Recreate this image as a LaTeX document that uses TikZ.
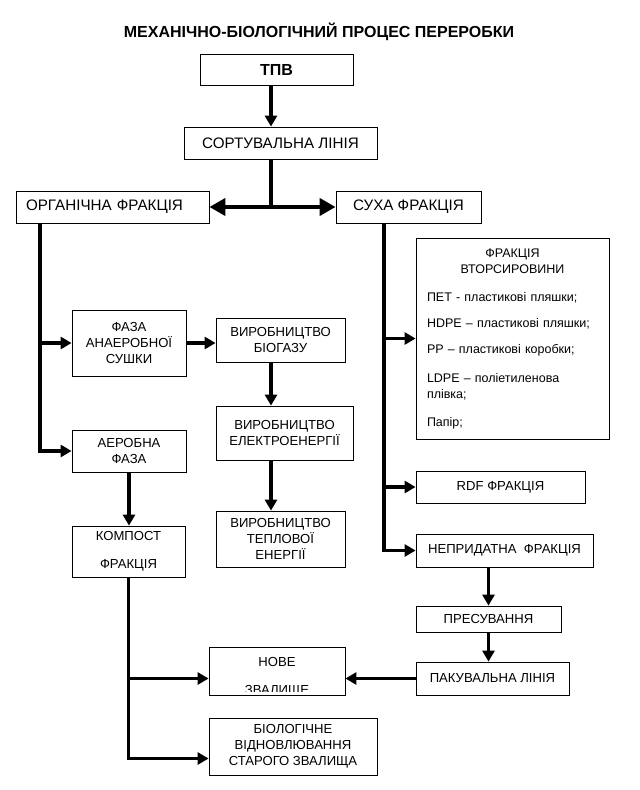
\documentclass[tikz,border=0pt]{standalone}
\usepackage{fontspec}
\setmainfont{Liberation Sans}
\usetikzlibrary{arrows.meta,calc}

\newcommand{\hdfont}{\fontsize{16}{18}\selectfont\bfseries}
\newcommand{\bxfont}{\fontsize{15.2}{17}\selectfont}
\newcommand{\smfont}{\fontsize{13.1}{16}\selectfont}
\newcommand{\lsfont}{\fontsize{12.5}{16}\selectfont}

\tikzset{
	box/.style={draw, line width=0.8pt, inner sep=0pt, align=center, font=\smfont},
	arr/.style={line width=3.5pt, -{Triangle[length=11pt,width=12pt]}},
	wire/.style={line width=3.5pt},
	biarr/.style={line width=4.5pt, {Triangle[length=16pt,width=17pt]}-{Triangle[length=16pt,width=17pt]}}
}

\begin{document}
\begin{tikzpicture}[x=1pt,y=-1pt]
		\useasboundingbox (0,0) rectangle (640,790);
		
		\node[font=\hdfont] (title) at (319,32) {МЕХАНІЧНО-БІОЛОГІЧНИЙ ПРОЦЕС ПЕРЕРОБКИ};
		
		\node[box, font=\hdfont, minimum width=153pt, minimum height=31pt] (tpv) at (276.5,69.5) {ТПВ};
		\node[box, font=\bxfont, minimum width=193pt, minimum height=32pt] (sort) at (280.5,143) {СОРТУВАЛЬНА ЛІНІЯ};
		\node[box, font=\bxfont, minimum width=193pt, minimum height=32pt, text width=173pt, inner xsep=10pt, align=left] (org) at (112.5,207) {ОРГАНІЧНА ФРАКЦІЯ};
		\node[box, font=\bxfont, minimum width=145pt, minimum height=32pt] (dry) at (408.5,207) {СУХА ФРАКЦІЯ};
		
		\node[box, minimum width=114pt, minimum height=66pt] (anaer) at (129,343) {ФАЗА\\АНАЕРОБНОЇ\\СУШКИ};
		\node[box, minimum width=129pt, minimum height=44pt] (biogas) at (280.5,340) {ВИРОБНИЦТВО\\БІОГАЗУ};
		\node[box, minimum width=137pt, minimum height=54pt] (elec) at (284.5,433) {ВИРОБНИЦТВО\\ЕЛЕКТРОЕНЕРГІЇ};
		\node[box, minimum width=129pt, minimum height=56pt] (heat) at (280.5,539) {ВИРОБНИЦТВО\\ТЕПЛОВОЇ\\ЕНЕРГІЇ};
		\node[box, minimum width=114pt, minimum height=42pt] (aer) at (129,451) {АЕРОБНА\\ФАЗА};
		\node[box, minimum width=113pt, minimum height=51pt] (comp) at (128.5,551.5) {КОМПОСТ\\[12pt]ФРАКЦІЯ};
		
		\node[box, minimum width=136pt, minimum height=48pt] (nove) at (277,671) {};
		\begin{scope}
			\clip (nove.north west) rectangle ($(nove.south east)+(0,-4)$);
			\node[font=\smfont, align=center] (novetext) at (277,677) {НОВЕ\\[12pt]ЗВАЛИЩЕ};
		\end{scope}
		\node[box, minimum width=168pt, minimum height=57pt] (bio) at (293,746.5) {БІОЛОГІЧНЕ\\ВІДНОВЛЮВАННЯ\\СТАРОГО ЗВАЛИЩА};
		
		\node[box, font=\lsfont, minimum width=193pt, minimum height=201pt, text width=171pt, inner xsep=11pt, align=left] (recyc) at (512.5,338.5) {%
			\makebox[171pt]{ФРАКЦІЯ}\\
			\makebox[171pt]{ВТОРСИРОВИНИ}\\[12pt]
			ПЕТ - пластикові пляшки;\\[10pt]
			HDPE – пластикові пляшки;\\[10pt]
			PP – пластикові коробки;\\[13pt]
			LDPE – поліетиленова\\
			плівка;\\[12pt]
			Папір;};
		\node[box, minimum width=169pt, minimum height=32pt] (rdf) at (500.5,487) {RDF ФРАКЦІЯ};
		\node[box, minimum width=177pt, minimum height=33pt] (unfit) at (504.5,550.5) {НЕПРИДАТНА\ \ ФРАКЦІЯ};
		\node[box, minimum width=145pt, minimum height=26pt] (press) at (488.5,619) {ПРЕСУВАННЯ};
		\node[box, minimum width=153pt, minimum height=33pt] (pack) at (492.5,678.5) {ПАКУВАЛЬНА ЛІНІЯ};
		
		\coordinate (hub) at (271,207);
		\coordinate (lspine) at (40,223);
		\coordinate (rspine) at (384,223);
		
		\draw[arr] (tpv.south -| hub) -- (sort.north -| hub);
		\draw[wire] (sort.south -| hub) -- (hub);
		\draw[biarr] (org.east) -- (dry.west);
		
		\draw[arr] (org.south -| lspine) |- (anaer.west);
		\draw[arr] (org.south -| lspine) |- (aer.west);
		\draw[arr] (anaer.east) -- (anaer.east -| biogas.west);
		\draw[arr] (biogas.south -| hub) -- (elec.north -| hub);
		\draw[arr] (elec.south -| hub) -- (heat.north -| hub);
		\draw[arr] (aer.south) -- (aer.south |- comp.north);
		\draw[arr] (comp.south) |- (pack.west -| nove.west);
		\draw[arr] (comp.south) |- ($(bio.west)+(0,12)$);
		
		\draw[arr] (dry.south -| rspine) |- (recyc.west);
		\draw[arr] (dry.south -| rspine) |- (rdf.west);
		\draw[arr] (dry.south -| rspine) |- (unfit.west);
		\draw[arr] (press.north |- unfit.south) -- (press.north);
		\draw[arr] (press.south) -- (press.south |- pack.north);
		\draw[arr] (pack.west) -- (pack.west -| nove.east);
		
	\end{tikzpicture}
\end{document}
